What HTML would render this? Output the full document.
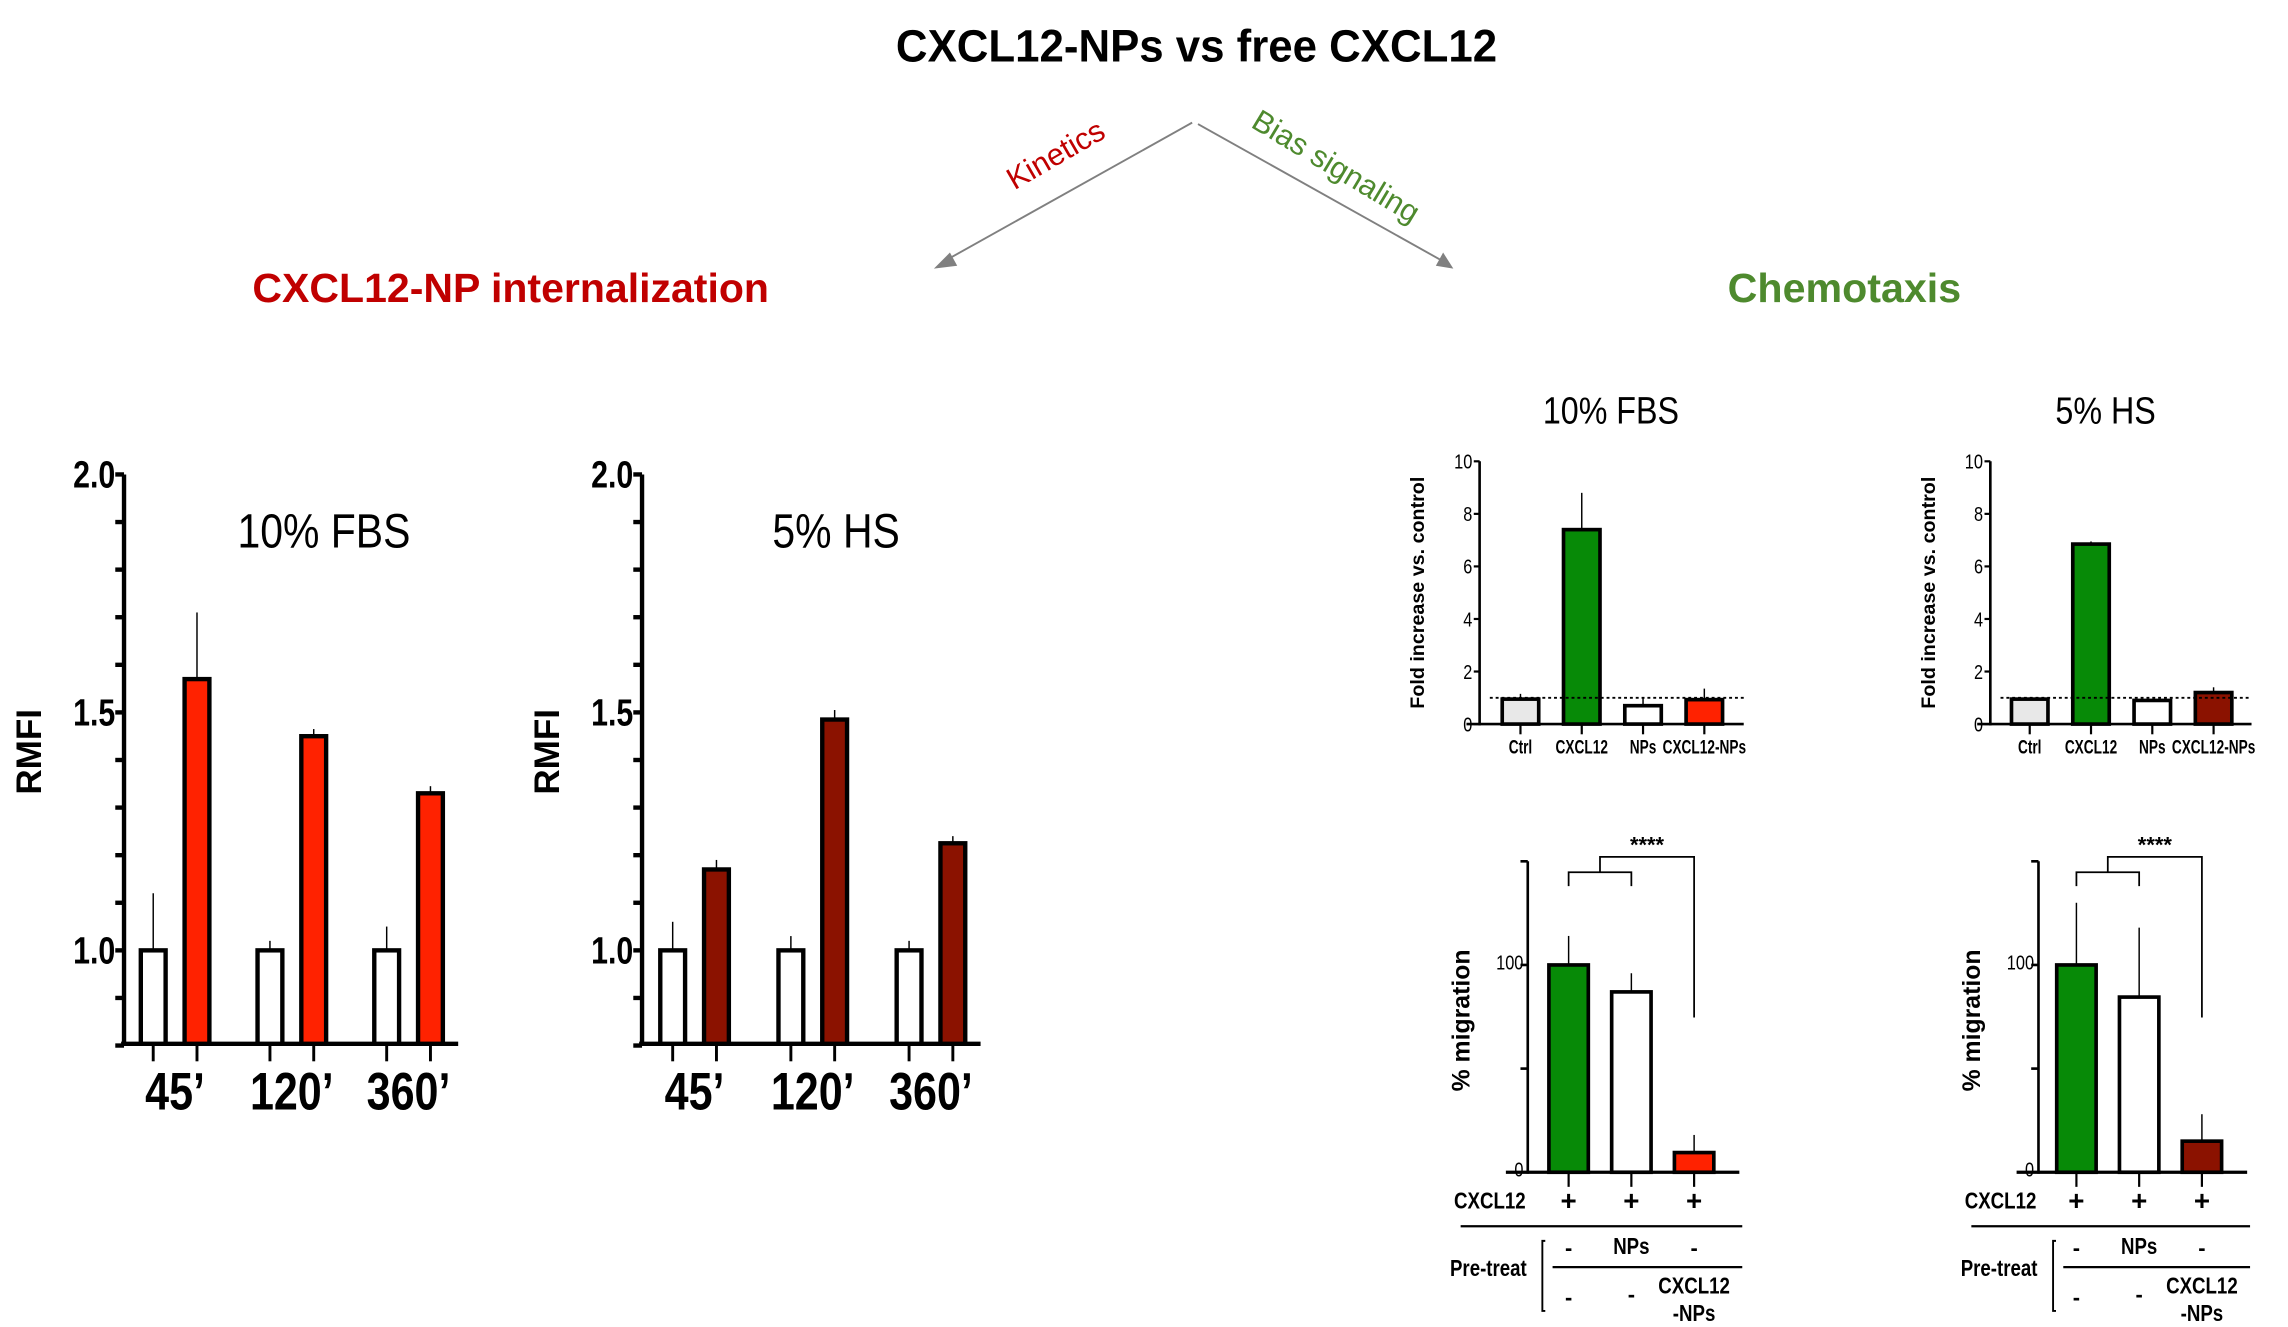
<!DOCTYPE html>
<html><head><meta charset="utf-8"><style>
html,body{margin:0;padding:0;background:#fff;}
svg{display:block;}
text{font-family:"Liberation Sans Narrow","Liberation Sans",sans-serif;}
</style></head><body>
<svg id="fig" xmlns="http://www.w3.org/2000/svg" width="2288" height="1327" viewBox="0 0 1568 909" preserveAspectRatio="none">
<rect width="1568" height="909" fill="#fff"/>
<text x="820" y="42" text-anchor="middle" font-size="31" font-weight="bold" fill="#000" textLength="412" lengthAdjust="spacingAndGlyphs">CXCL12-NPs vs free CXCL12</text>
<g stroke="#808080" stroke-width="1.3" fill="#808080">
<line x1="817" y1="84" x2="647" y2="179"/><polygon points="640,184 651,173 656,182" stroke="none"/></g>
<g stroke="#808080" stroke-width="1.3" fill="#808080">
<line x1="821" y1="85" x2="989" y2="179"/><polygon points="996,184 984,182 989,173" stroke="none"/></g>
<text transform="translate(727,112) rotate(-30)" text-anchor="middle" font-size="21" fill="#c00000">Kinetics</text>
<text transform="translate(912,120) rotate(31)" text-anchor="middle" font-size="21" fill="#4e8a2e">Bias signaling</text>
<text x="350" y="207" text-anchor="middle" font-size="28" font-weight="bold" fill="#c00000" textLength="354" lengthAdjust="spacingAndGlyphs">CXCL12-NP internalization</text>
<text x="1264" y="207" text-anchor="middle" font-size="28" font-weight="bold" fill="#4e8a2e" textLength="160" lengthAdjust="spacingAndGlyphs">Chemotaxis</text>
<g id="charts"></g>
</svg>
<script>
// ---- internalization data ----
const timeLabels = ["45\u2019", "120\u2019", "360\u2019"];
const fbsCtrl = [1.0, 1.0, 1.0];
const fbsCtrlErr = [1.12, 1.02, 1.05];
const fbsNP = [1.57, 1.45, 1.33];
const fbsNPErr = [1.71, 1.465, 1.345];
const hsCtrl = [1.0, 1.0, 1.0];
const hsCtrlErr = [1.06, 1.03, 1.02];
const hsNP = [1.17, 1.485, 1.225];
const hsNPErr = [1.19, 1.505, 1.24];
const rmfiTicks = ["1.0", "1.5", "2.0"];
// ---- fold increase data ----
const foldCats = ["Ctrl", "CXCL12", "NPs", "CXCL12-NPs"];
const foldFBS = [0.95, 7.4, 0.7, 0.93];
const foldFBSErr = [1.15, 8.8, 1.0, 1.35];
const foldHS = [0.95, 6.85, 0.9, 1.2];
const foldHSErr = [1.0, 6.95, 0.95, 1.4];
const foldTicks = [0, 2, 4, 6, 8, 10];
// ---- migration data ----
const migFBS = [100, 87, 9.5];
const migFBSErr = [114, 96, 18];
const migHS = [100, 84.5, 15];
const migHSErr = [130, 118, 28];
const migTicks = [0, 100];

const NS = "http://www.w3.org/2000/svg";
const root = document.getElementById("charts");
function el(tag, attrs, parent, txt) {
  const e = document.createElementNS(NS, tag);
  for (const k in attrs) e.setAttribute(k, attrs[k]);
  if (txt !== undefined) e.textContent = txt;
  (parent || root).appendChild(e);
  return e;
}
function grp(name) {
  const g = el("g", {});
  
  
  return g;
}
function bar(g, name, x0, x1, yTop, yBase, fill, sw) {
  const r = el("rect", {x: x0, y: yTop, width: x1 - x0, height: Math.max(0, yBase - yTop), fill: fill, stroke: "#000", "stroke-width": sw}, g);
  
  
  return r;
}
function errLine(g, name, x, y0, y1) {
  const l = el("line", {x1: x, x2: x, y1: y0, y2: y1, stroke: "#000", "stroke-width": 1}, g);
  
  
}
function txt(g, name, x, y, s, attrs, narrow) {
  const t = el("text", Object.assign({x: x, y: y}, attrs), g, s);
  
  
  if (narrow) {
    const w = t.getComputedTextLength();
    if (w > 0) { t.setAttribute("textLength", (w * narrow).toFixed(1)); t.setAttribute("lengthAdjust", "spacingAndGlyphs"); }
  }
  return t;
}
const NR = 0.8;

// ---- internalization charts ----
function rmfiChart(name, ax, axEnd, groupX, ctrl, ctrlErr, val, valErr, color, title, titleX) {
  const g = grp(name);
  const yOf = v => 651 - (v - 1) * 326;
  const base = 715;
  el("line", {x1: ax, x2: ax, y1: yOf(2.0), y2: base + 1, stroke: "#000", "stroke-width": 3}, g);
  el("line", {x1: ax - 2, x2: axEnd, y1: base, y2: base, stroke: "#000", "stroke-width": 3}, g);
  for (let i = 0; i <= 12; i++) {
    const v = 0.8 + i * 0.1; if (v > 2.001) break;
    el("line", {x1: ax - 6, x2: ax, y1: yOf(v), y2: yOf(v), stroke: "#000", "stroke-width": 3}, g);
  }
  rmfiTicks.forEach(t => txt(g, "y-tick-label", ax - 6, yOf(parseFloat(t)) + 9, t, {"text-anchor": "end", "font-size": 26, "font-weight": "bold"}, 0.8));
  txt(g, "y-axis-title", 0, 0, "RMFI", {transform: `translate(${ax - 57},515) rotate(-90)`, "text-anchor": "middle", "font-size": 24, "font-weight": "bold", "font-family": "Liberation Sans, sans-serif"});
  txt(g, "panel-title", titleX, 375, title, {"text-anchor": "middle", "font-size": 33}, 0.85);
  timeLabels.forEach((lab, i) => {
    const cx = groupX[i];
    const c1 = cx - 15, c2 = cx + 15;
    errLine(g, "error-bar", c1, yOf(ctrl[i]), yOf(ctrlErr[i]));
    bar(g, "bar-ctrl-" + i, c1 - 8.5, c1 + 8.5, yOf(ctrl[i]), base, "#fff", 3);
    errLine(g, "error-bar", c2, yOf(val[i]), yOf(valErr[i]));
    bar(g, "bar-np-" + i, c2 - 8.5, c2 + 8.5, yOf(val[i]), base, color, 3);
    el("line", {x1: c1, x2: c1, y1: base, y2: base + 12, stroke: "#000", "stroke-width": 2}, g);
    el("line", {x1: c2, x2: c2, y1: base, y2: base + 12, stroke: "#000", "stroke-width": 2}, g);
    txt(g, "x-tick-label", cx, 760, lab, {"text-anchor": "middle", "font-size": 36, "font-weight": "bold"}, 0.82);
  });
}
rmfiChart("rmfi-chart-fbs", 85, 314, [120, 200, 280], fbsCtrl, fbsCtrlErr, fbsNP, fbsNPErr, "#ff2200", "10% FBS", 222);
rmfiChart("rmfi-chart-hs", 440, 672, [476, 557, 638], hsCtrl, hsCtrlErr, hsNP, hsNPErr, "#8b1200", "5% HS", 573);

// ---- fold increase charts ----
function foldChart(name, ax, axEnd, centers, vals, errs, lastColor, title, titleX) {
  const g = grp(name);
  const yOf = v => 496 - v * 18;
  el("line", {x1: ax, x2: ax, y1: yOf(10), y2: 497, stroke: "#000", "stroke-width": 1.8}, g);
  el("line", {x1: ax - 9, x2: axEnd, y1: 496, y2: 496, stroke: "#000", "stroke-width": 1.8}, g);
  foldTicks.forEach(t => {
    el("line", {x1: ax - 4, x2: ax, y1: yOf(t), y2: yOf(t), stroke: "#000", "stroke-width": 1.5}, g);
    txt(g, "y-tick-label", ax - 5, yOf(t) + 5, String(t), {"text-anchor": "end", "font-size": 14}, NR);
  });
  txt(g, "y-axis-title", 0, 0, "Fold increase vs. control", {transform: `translate(${ax - 38},406) rotate(-90)`, "text-anchor": "middle", "font-size": 13.5, "font-weight": "bold", "font-family": "Liberation Sans, sans-serif"});
  txt(g, "panel-title", titleX, 290, title, {"text-anchor": "middle", "font-size": 26}, 0.85);
  const fills = ["#e8e8e8", "#078a07", "#fff", lastColor];
  foldCats.forEach((c, i) => {
    const cx = centers[i];
    errLine(g, "error-bar", cx, yOf(vals[i]), yOf(errs[i]));
    bar(g, "bar-" + c.toLowerCase(), cx - 12.5, cx + 12.5, yOf(vals[i]), 496, fills[i], 2.5);
    el("line", {x1: cx, x2: cx, y1: 496, y2: 503, stroke: "#000", "stroke-width": 1.5}, g);
    txt(g, "x-tick-label", cx, 516, c, {"text-anchor": "middle", "font-size": 13, "font-weight": "bold"}, 0.72);
  });
  el("line", {x1: ax + 7, x2: axEnd, y1: yOf(1), y2: yOf(1), stroke: "#000", "stroke-width": 1.3, "stroke-dasharray": "2,2"}, g);
}
foldChart("fold-chart-fbs", 1014, 1195, [1042, 1084, 1126, 1168], foldFBS, foldFBSErr, "#ff2200", "10% FBS", 1104);
foldChart("fold-chart-hs", 1364, 1543, [1391, 1433, 1475, 1517], foldHS, foldHSErr, "#8b1200", "5% HS", 1443);

// ---- migration charts ----
function migChart(name, ax, centers, vals, errs, lastColor) {
  const g = grp(name);
  const yOf = v => 803 - v * 1.42;
  const axEnd = centers[2] + 31;
  el("line", {x1: ax, x2: ax, y1: yOf(150), y2: 804, stroke: "#000", "stroke-width": 1.8}, g);
  el("line", {x1: ax - 5, x2: ax, y1: yOf(150), y2: yOf(150), stroke: "#000", "stroke-width": 1.8}, g);
  el("line", {x1: ax - 15, x2: axEnd, y1: 803, y2: 803, stroke: "#000", "stroke-width": 2.2}, g);
  [50, 100].forEach(t => el("line", {x1: ax - 5, x2: ax, y1: yOf(t), y2: yOf(t), stroke: "#000", "stroke-width": 1.8}, g));
  migTicks.forEach(t => txt(g, "y-tick-label", ax - 3, yOf(t) + 3, String(t), {"text-anchor": "end", "font-size": 14}, NR));
  txt(g, "y-axis-title", 0, 0, "% migration", {transform: `translate(${ax - 40},699) rotate(-90)`, "text-anchor": "middle", "font-size": 17, "font-weight": "bold", "font-family": "Liberation Sans, sans-serif"});
  const fills = ["#078a07", "#fff", lastColor];
  vals.forEach((v, i) => {
    const cx = centers[i];
    errLine(g, "error-bar", cx, yOf(v), yOf(errs[i]));
    bar(g, "bar-migration-" + i, cx - 13.5, cx + 13.5, yOf(v), 803, fills[i], 2.5);
    el("line", {x1: cx, x2: cx, y1: 803, y2: 813, stroke: "#000", "stroke-width": 1.5}, g);
    txt(g, "plus-sign", cx, 829, "+", {"text-anchor": "middle", "font-size": 19, "font-weight": "bold"});
  });
  const [a, b, c] = centers, m = (a + b) / 2;
  el("polyline", {points: `${a},607 ${a},597.5 ${b},597.5 ${b},607`, fill: "none", stroke: "#000", "stroke-width": 1.2}, g);
  el("polyline", {points: `${m},597.5 ${m},587 ${c},587 ${c},697`, fill: "none", stroke: "#000", "stroke-width": 1.2}, g);
  txt(g, "significance-stars", (m + c) / 2, 584, "****", {"text-anchor": "middle", "font-size": 15, "font-weight": "bold"});
  txt(g, "cxcl12-row-label", ax - 26, 828, "CXCL12", {"text-anchor": "middle", "font-size": 16, "font-weight": "bold"}, NR);
  el("line", {x1: ax - 46, x2: axEnd + 2, y1: 840, y2: 840, stroke: "#000", "stroke-width": 1.5}, g);
  txt(g, "pretreat-label", ax - 27, 874, "Pre-treat", {"text-anchor": "middle", "font-size": 16, "font-weight": "bold"}, NR);
  el("polyline", {points: `${ax + 12},850 ${ax + 10},850 ${ax + 10},898 ${ax + 12},898`, fill: "none", stroke: "#000", "stroke-width": 1.3}, g);
  el("line", {x1: ax + 17, x2: axEnd + 2, y1: 868, y2: 868, stroke: "#000", "stroke-width": 1.5}, g);
  txt(g, "pretreat-dash", a, 860, "-", {"text-anchor": "middle", "font-size": 15, "font-weight": "bold"});
  txt(g, "pretreat-nps", b, 859, "NPs", {"text-anchor": "middle", "font-size": 16, "font-weight": "bold"}, NR);
  txt(g, "pretreat-dash", c, 860, "-", {"text-anchor": "middle", "font-size": 15, "font-weight": "bold"});
  txt(g, "pretreat-dash", a, 894, "-", {"text-anchor": "middle", "font-size": 15, "font-weight": "bold"});
  txt(g, "pretreat-dash", b, 892, "-", {"text-anchor": "middle", "font-size": 15, "font-weight": "bold"});
  txt(g, "pretreat-cxcl12", c, 886, "CXCL12", {"text-anchor": "middle", "font-size": 16, "font-weight": "bold"}, NR);
  txt(g, "pretreat-nps-suffix", c, 905, "-NPs", {"text-anchor": "middle", "font-size": 16, "font-weight": "bold"}, NR);
}
migChart("migration-chart-fbs", 1047, [1075, 1118, 1161], migFBS, migFBSErr, "#ff2200");
migChart("migration-chart-hs", 1397, [1423, 1466, 1509], migHS, migHSErr, "#8b1200");
</script>
</body></html>
